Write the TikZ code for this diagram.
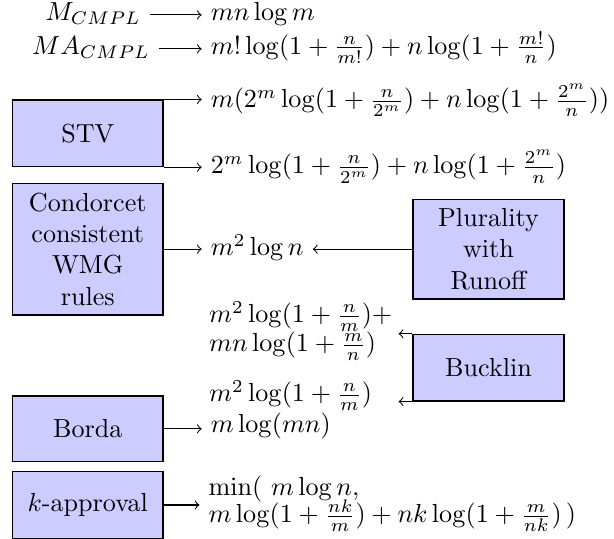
\documentclass[tikz,border=0pt]{standalone}
\usepackage{amsmath}
\def\pxu{0.3831pt}
\begin{document}
\begin{tikzpicture}[x=0.3831pt,y=-0.3831pt,
  rbox/.style={draw=black, fill=blue!20, align=center, inner sep=0pt},
  rtext/.style={anchor=base west},
  ltext/.style={anchor=base east},
  conn/.style={->}]
\useasboundingbox (0,0) rectangle (614,539);
% boxes
\node[rbox, minimum width=150.5*\pxu, minimum height=66.7*\pxu] (stv) at (87.75,133.35) {STV};
\node[rbox, minimum width=150.5*\pxu, minimum height=131.7*\pxu] (cond) at (87.75,249.15) {Condorcet\\consistent\\WMG\\rules};
\node[rbox, minimum width=150.5*\pxu, minimum height=65.7*\pxu] (borda) at (87.75,428.85) {Borda};
\node[rbox, minimum width=150.5*\pxu, minimum height=66.6*\pxu] (kapp) at (87.75,505) {$k$-approval};
\node[rbox, minimum width=151*\pxu, minimum height=99.7*\pxu] (plur) at (488.5,249.15) {Plurality\\with\\Runoff};
\node[rbox, minimum width=151*\pxu, minimum height=66.7*\pxu] (buck) at (488.5,367.65) {Bucklin};
% left texts
\node[ltext] (l1) at (150,20.5) {$M_{CMPL}$};
\node[ltext] (l2) at (159,54.5) {$MA_{CMPL}$};
% right texts
\node[rtext] (r1) at (201.7,20.5) {$mn\log m$};
\node[rtext] (r2) at (201.7,54.5) {$m!\log(1+\frac{n}{m!})+n\log(1+\frac{m!}{n})$};
\node[rtext] (r3) at (201.7,108) {$m(2^m\log(1+\frac{n}{2^m})+n\log(1+\frac{2^m}{n}))$};
\node[rtext] (r4) at (201.7,174) {$2^m\log(1+\frac{n}{2^m})+n\log(1+\frac{2^m}{n})$};
\node[rtext] (r5) at (201.7,256) {$m^2\log n$};
\node[rtext] (r6a) at (200,323) {$m^2\log(1+\frac{n}{m})+$};
\node[rtext] (r6b) at (200,352) {$mn\log(1+\frac{m}{n})$};
\node[rtext] (r7) at (200,402) {$m^2\log(1+\frac{n}{m})$};
\node[rtext] (r8) at (201.7,433) {$m\log(mn)$};
\node[rtext] (r9a) at (199.5,496) {$\min(\ m\log n,$};
\node[rtext] (r9b) at (199.5,523) {$m\log(1+\frac{nk}{m})+nk\log(1+\frac{m}{nk})\,)$};
\coordinate (bk) at (398.6,367.65);
% connectors
\draw[conn] (l1.mid east) -- (l1.mid east -| r1.west);
\draw[conn] (l2.mid east) -- (l2.mid east -| r2.west);
\draw[conn] (stv.north east) -- (stv.north east -| r3.west);
\draw[conn] (stv.south east) -- (stv.south east -| r4.west);
\draw[conn] (cond.east) -- (cond.east -| r5.west);
\draw[conn] (plur.west) -- (plur.west -| r5.east);
\draw[conn] (buck.north west) -- (buck.north west -| bk);
\draw[conn] (buck.south west) -- (buck.south west -| bk);
\draw[conn] (borda.east) -- (borda.east -| r8.west);
\draw[conn] (kapp.east) -- (kapp.east -| r9a.west);
\end{tikzpicture}
\end{document}
